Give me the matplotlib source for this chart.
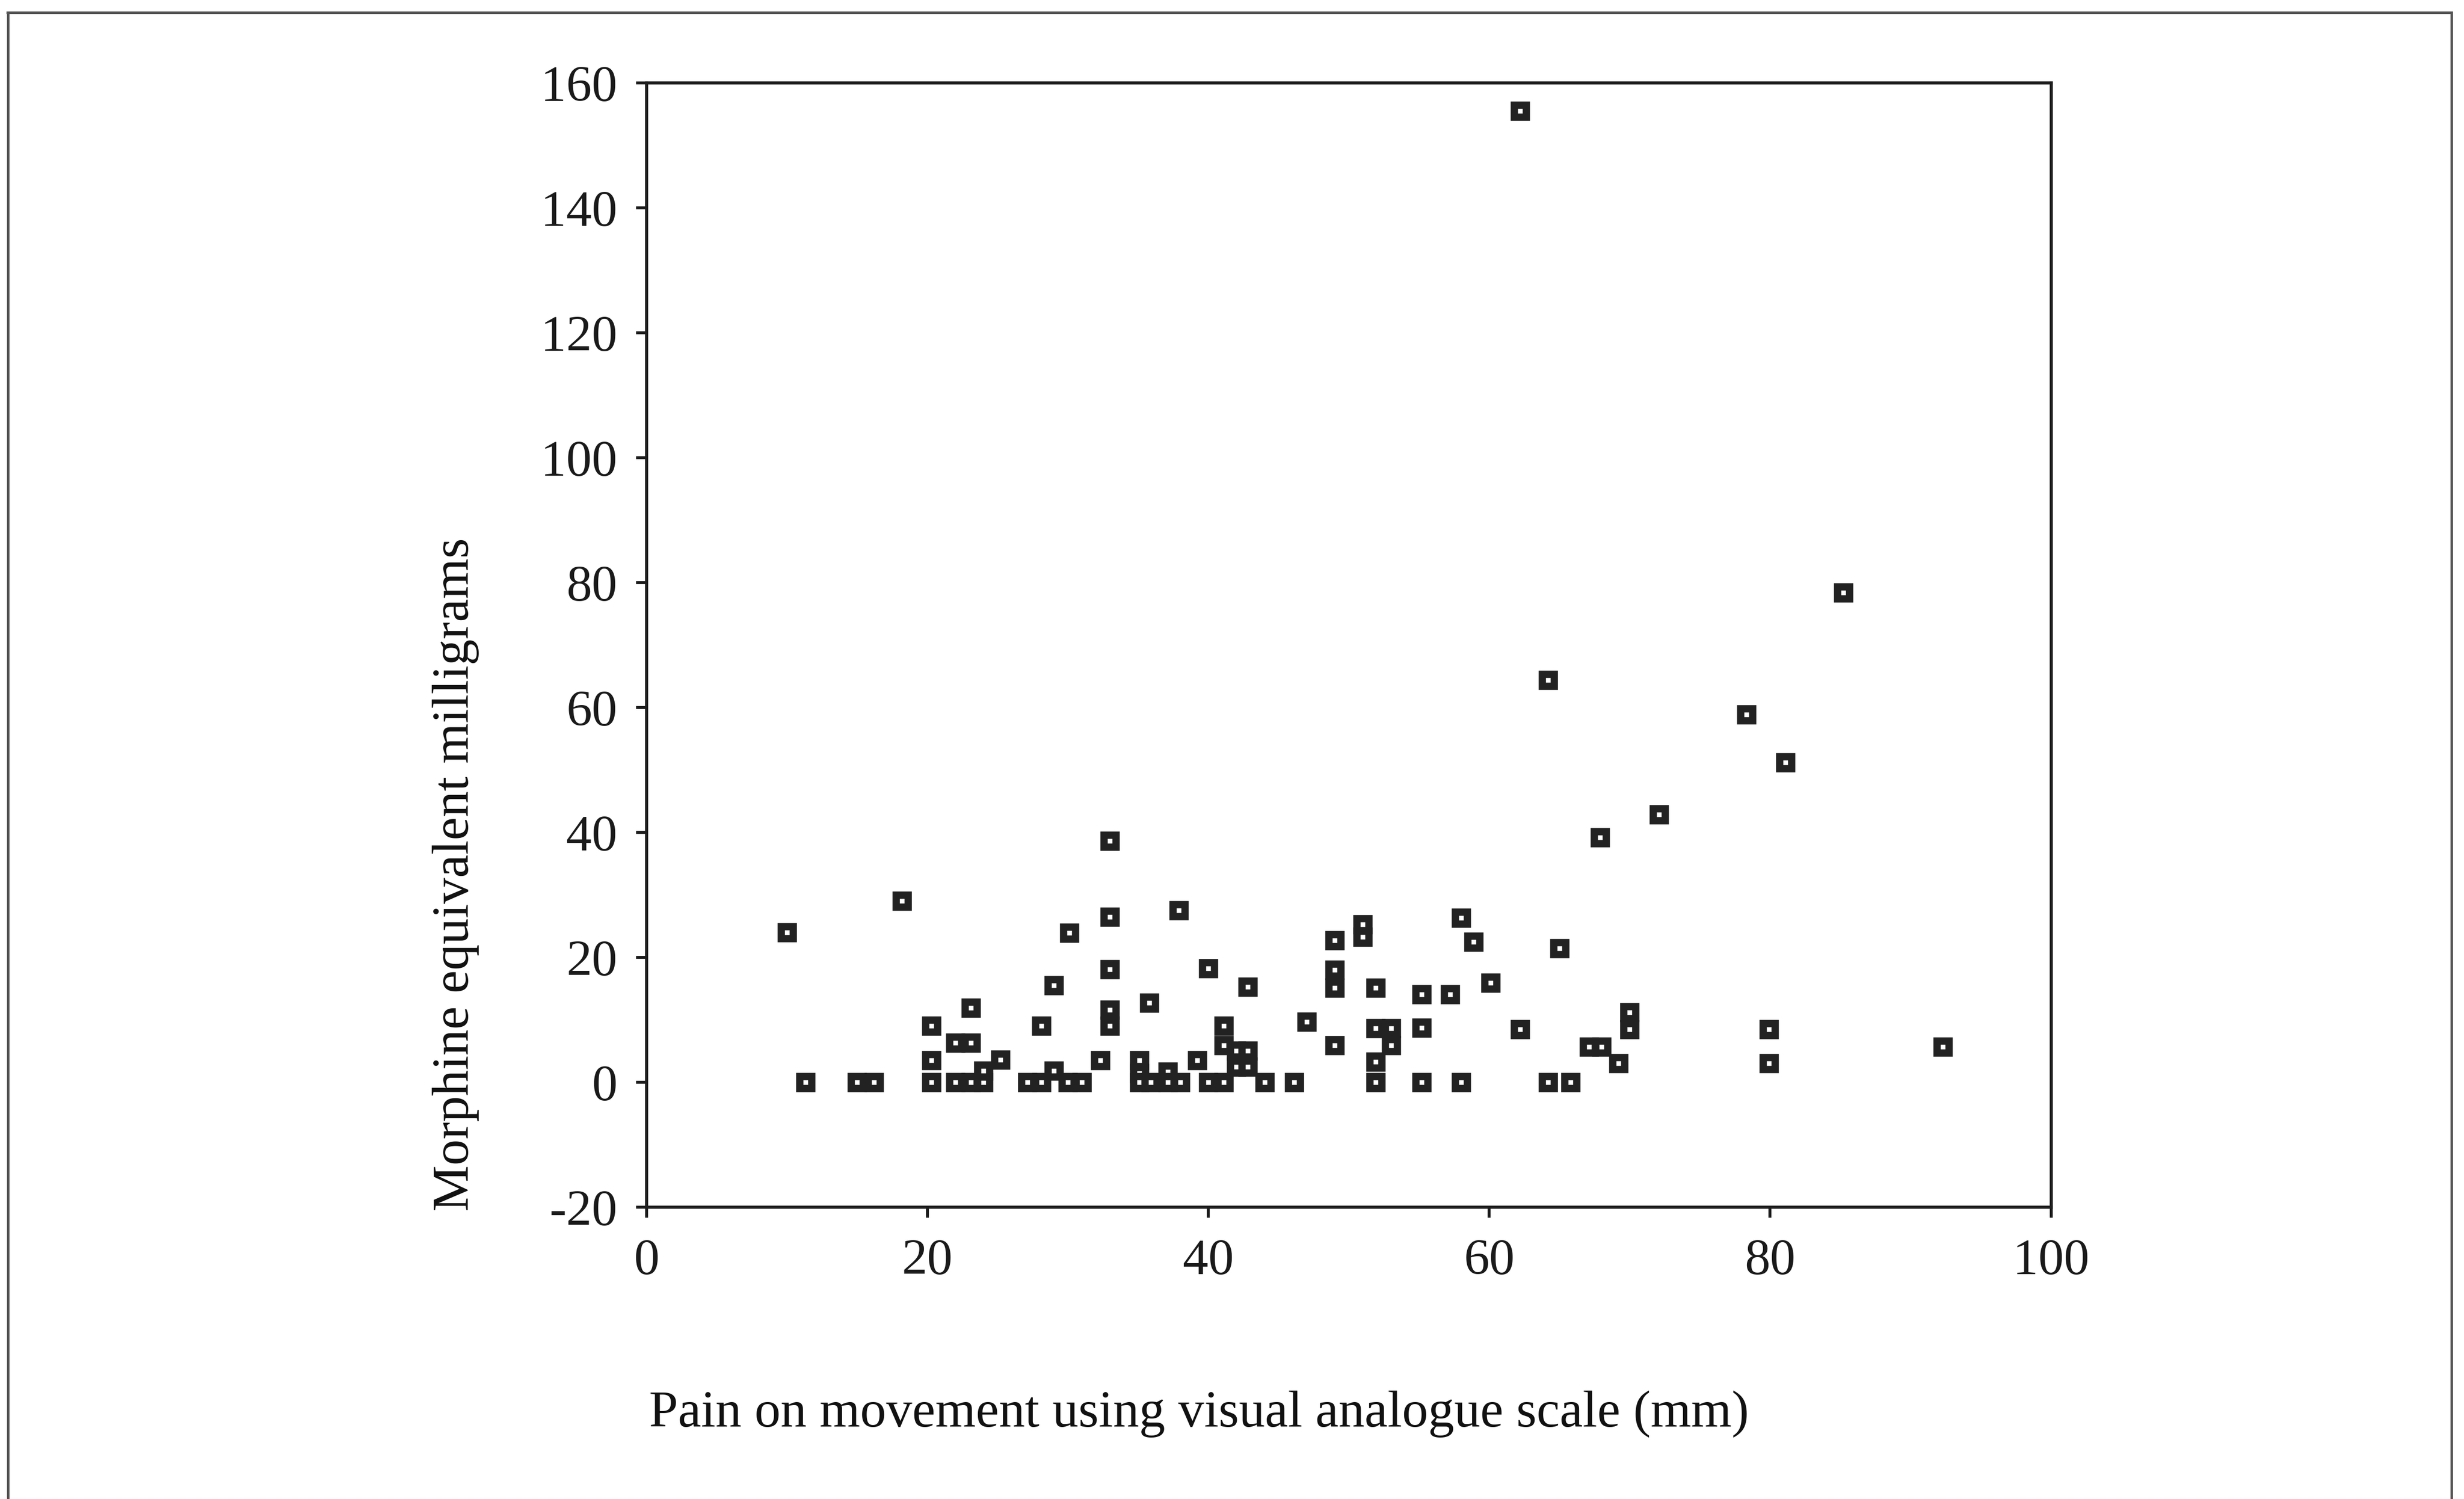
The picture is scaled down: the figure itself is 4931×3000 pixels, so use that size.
import matplotlib
matplotlib.use("Agg")
import matplotlib.pyplot as plt
from matplotlib.lines import Line2D

# pain on movement (VAS, mm) vs morphine equivalent dose (mg)
pain_vas = [10, 11.3, 15, 16.2, 18.2, 20.3, 20.3, 20.3, 22, 23.1, 23.1, 22, 23.1, 24,
            24, 25.2, 27.1, 28.1, 29, 30, 31, 28.1, 29, 30.1, 32.3, 33, 33, 33, 33, 33,
            37.9, 35.1, 35.1, 35.1, 35.9, 35.8, 37.1, 37.1, 38, 39.2, 40, 40, 41.1, 41.1,
            41.1, 42, 42.8, 42, 42.8, 42.8, 44, 46.1, 47, 49, 49, 49, 49, 51, 51, 51.9,
            51.9, 53, 53, 51.9, 51.9, 55.2, 55.2, 55.2, 57.2, 58, 58.9, 58, 60.1, 62.2,
            64.2, 65.8, 65, 67.1, 68, 67.9, 69.2, 70, 70, 72.1, 78.3, 81.1, 79.9, 79.9,
            85.2, 92.3, 64.2, 62.2]
morphine_mg = [24, 0, 0, 0, 29, 0, 3.5, 9, 6.3, 6.3, 11.9, 0, 0, 0,
               1.8, 3.6, 0, 0, 1.8, 0, 0, 9, 15.5, 23.9, 3.5, 38.6, 26.5, 18.1, 11.6, 9,
               27.5, 3.5, 1.4, 0, 0, 12.7, 1.7, 0, 0, 3.5, 18.2, 0, 0, 9,
               5.9, 5, 5, 2.5, 2.5, 15.3, 0, 0, 9.7, 22.7, 18, 15.1, 5.9, 25.3, 23.3, 15.1,
               8.6, 8.6, 5.9, 3.3, 0, 14.1, 8.7, 0, 14.1, 26.3, 22.5, 0, 15.9, 8.5,
               0, 0, 21.4, 5.7, 5.7, 39.2, 3, 11.2, 8.5, 42.9, 58.9, 51.2, 8.5, 3,
               78.4, 5.7, 64.4, 155.5]

x_ticks = [0, 20, 40, 60, 80, 100]
y_ticks = [-20, 0, 20, 40, 60, 80, 100, 120, 140, 160]

plt.rcParams['font.family'] = ['Liberation Serif', 'DejaVu Serif']
plt.rcParams['axes.unicode_minus'] = False

fig = plt.figure(figsize=(4931 / 300, 3000 / 300), dpi=300)
ax = fig.add_axes([0.2624, 0.1947, 0.57, 0.75])

ax.plot(pain_vas, morphine_mg, linestyle='none', marker='s', markersize=5.6,
        markerfacecolor='white', markeredgecolor='#222222', markeredgewidth=3.5)

ax.set_xlim(0, 100)
ax.set_ylim(-20, 160)
ax.set_xticks(x_ticks)
ax.set_yticks(y_ticks)
ax.tick_params(direction='out', length=5, width=1.4, colors='#1a1a1a',
               labelsize=24.5)
ax.tick_params(axis='y', pad=9)
ax.tick_params(axis='x', pad=10)

for sp in ax.spines.values():
    sp.set_linewidth(1.5)
    sp.set_color('#1e1e1e')

ax.set_xlabel('Pain on movement using visual analogue scale (mm)', fontsize=25,
              color='#111111')
ax.xaxis.set_label_coords(0.3935, -0.163)
ax.set_ylabel('Morphine equivalent milligrams', fontsize=25, color='#111111')
ax.yaxis.set_label_coords(-0.119, 0.296)

# border of the scanned figure box (no bottom edge in the crop)
for xs, ys in [([0.003, 0.995], [0.9917, 0.9917]),
               ([0.0033, 0.0033], [0.0, 0.9917]),
               ([0.9949, 0.9949], [0.0, 0.9917])]:
    fig.add_artist(Line2D(xs, ys, color='#555555', linewidth=1.2,
                          transform=fig.transFigure))

fig.savefig('out.png', dpi=300, facecolor='white')
